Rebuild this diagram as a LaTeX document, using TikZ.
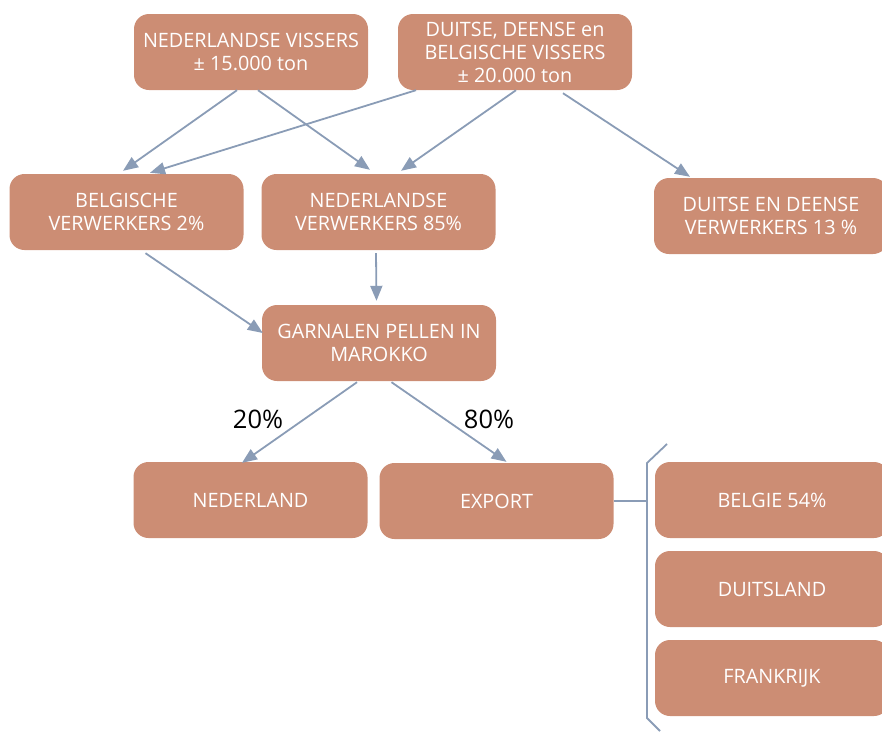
\documentclass[tikz,border=0pt]{standalone}
\usepackage{fontspec}
\setmainfont{Open Sans}
\usetikzlibrary{arrows.meta,calc}
\definecolor{boxc}{HTML}{CC8D74}
\definecolor{linec}{HTML}{8A9CB6}
\tikzset{
  box/.style={fill=boxc, rounded corners=15pt, minimum width=234pt, minimum height=76pt,
    inner sep=0pt, text=white, align=center, font=\fontsize{19.8}{23}\selectfont},
  arr/.style={draw=linec, line width=1.8pt, -{Triangle[length=15pt,width=12pt]}},
  ln/.style={draw=linec, line width=1.8pt},
  pct/.style={font=\fontsize{25.5}{28}\selectfont, text=black, inner sep=0pt}
}
\begin{document}
\begin{tikzpicture}[x=1pt,y=-1pt]
\useasboundingbox (0,0) rectangle (882,731);
\node[box] (vNL) at (251,52) {NEDERLANDSE VISSERS\\± 15.000 ton};
\node[box] (vDE) at (515,52) {DUITSE, DEENSE en\\BELGISCHE VISSERS\\± 20.000 ton};
\node[box] (bBE) at (126.5,212) {BELGISCHE\\VERWERKERS 2\%};
\node[box] (bNL) at (378.5,212) {NEDERLANDSE\\VERWERKERS 85\%};
\node[box] (bDE) at (771,216) {DUITSE EN DEENSE\\VERWERKERS 13 \%};
\node[box] (gM) at (379,343) {GARNALEN PELLEN IN\\MAROKKO};
\node[box] (nNL) at (250.5,500) {NEDERLAND};
\node[box] (ex) at (496.5,501) {EXPORT};
\node[box] (be) at (772,500) {BELGIE 54\%};
\node[box] (du) at (772,589) {DUITSLAND};
\node[box] (fr) at (772,678) {FRANKRIJK};
\node[pct] (p20) at (258,419) {20\%};
\node[pct] (p80) at (489,419) {80\%};
% arrows
\draw[arr] ($(vNL.south)+(-14,0)$) -- ($(bBE.north)+(-3.5,-3)$);
\draw[arr] ($(vNL.south)+(7,0)$) -- ($(bNL.north)+(-8.5,-4)$);
\draw[arr] ($(vDE.south)+(-99,0)$) -- ($(bBE.north)+(23.5,-1)$);
\draw[arr] ($(vDE.south)+(1,0)$) -- ($(bNL.north)+(22.5,-3)$);
\draw[arr] ($(vDE.south)+(48,3)$) -- ($(bDE.north)+(-81,-1)$);
\draw[arr] ($(bNL.south)+(-2.5,3)$) -- ($(gM.north)+(-2.5,-4)$);
\draw[arr] ($(bBE.south)+(19,3)$) -- ($(gM.west)+(1,-10)$);
\draw[arr] ($(gM.south)+(-22,1)$) -- ($(nNL.north)+(-8.5,1)$);
\draw[arr] ($(gM.south)+(12.5,1)$) -- ($(ex.north)+(10,-1)$);
% bracket
\coordinate (bj) at (647,501);
\coordinate (bt) at (647,463);
\coordinate (btt) at (667,444);
\coordinate (bb) at (647,718);
\coordinate (bbb) at (660,731);
\draw[ln] (ex.east) -- (bj);
\draw[ln] (btt) -- (bt) -- (bb) -- (bbb);
\end{tikzpicture}
\end{document}
